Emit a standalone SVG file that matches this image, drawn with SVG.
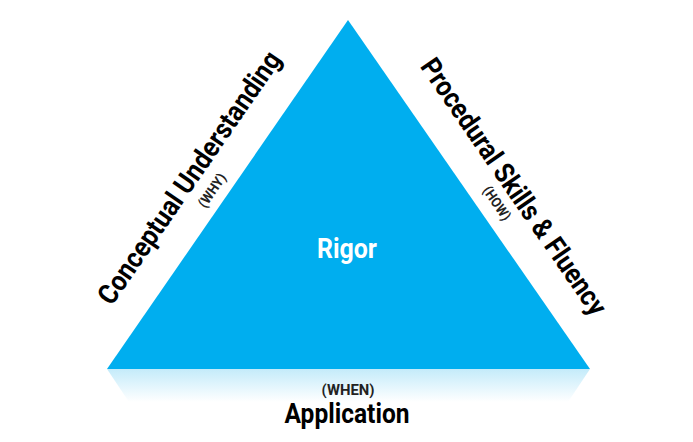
<svg xmlns="http://www.w3.org/2000/svg" width="693" height="442" viewBox="0 0 693 442">
<style>
.lbl{font-family:Roboto,"Liberation Sans",sans-serif;font-weight:bold;fill:#000;text-anchor:middle}
.sub{font-family:Roboto,"Liberation Sans",sans-serif;font-weight:bold;fill:#222;text-anchor:middle}
</style>
<defs>
<linearGradient id="refl" x1="0" y1="0" x2="0" y2="1">
<stop offset="0" stop-color="#c4ebfa"/>
<stop offset="1" stop-color="#ffffff"/>
</linearGradient>
</defs>
<rect width="693" height="442" fill="#fff"/>
<g id="reflection">
<polygon points="107,369 590,369 568,402 129,402" fill="url(#refl)"/>
</g>
<g id="triangle">
<polygon points="348,20 590,369 107,369" fill="#00aeef"/>
<text x="347" y="258" font-family="Roboto,'Liberation Sans',sans-serif" font-weight="bold" font-size="27" fill="#fff" text-anchor="middle" textLength="60" lengthAdjust="spacingAndGlyphs">Rigor</text>
</g>
<g id="conceptual">
<text class="lbl" transform="translate(197,183) rotate(-55.4)" font-size="28" textLength="300" lengthAdjust="spacingAndGlyphs">Conceptual Understanding</text>
<text class="sub" transform="translate(216,193) rotate(-55.4)" font-size="14" textLength="38" lengthAdjust="spacingAndGlyphs">(WHY)</text>
</g>
<g id="procedural">
<text class="lbl" transform="translate(506,192) rotate(55.4)" font-size="28" textLength="305" lengthAdjust="spacingAndGlyphs">Procedural Skills &amp; Fluency</text>
<text class="sub" transform="translate(493,206) rotate(55.4)" font-size="14" textLength="38" lengthAdjust="spacingAndGlyphs">(HOW)</text>
</g>
<g id="application">
<text class="sub" x="348" y="395" font-size="14" textLength="53" lengthAdjust="spacingAndGlyphs">(WHEN)</text>
<text class="lbl" x="347" y="423" font-size="28" textLength="125" lengthAdjust="spacingAndGlyphs">Application</text>
</g>
</svg>
